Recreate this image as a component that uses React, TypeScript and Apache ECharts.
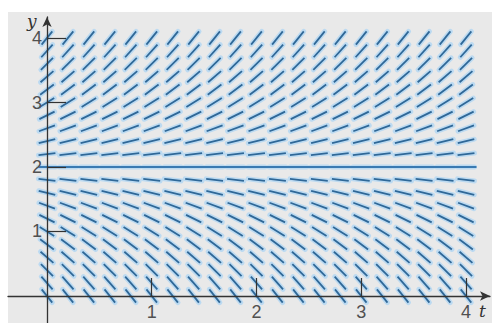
import React, { useEffect, useRef } from "react";
import * as echarts from "echarts";

// t positions of the direction-field columns
const T_VALUES = [0, 0.2, 0.4, 0.6, 0.8, 1, 1.2, 1.4, 1.6, 1.8, 2, 2.2, 2.4, 2.6, 2.8, 3, 3.2, 3.4, 3.6, 3.8, 4];
// y positions of the direction-field rows
const Y_VALUES = [0, 0.2, 0.4, 0.6, 0.8, 1, 1.2, 1.4, 1.6, 1.8, 2, 2.2, 2.4, 2.6, 2.8, 3, 3.2, 3.4, 3.6, 3.8, 4];
// slope dy/dt read for each row (field depends on y only)
const SLOPES = [-2.05, -1.85, -1.6, -1.4, -1.2, -1.0, -0.8, -0.6, -0.4, -0.2, 0, 0.2, 0.4, 0.6, 0.8, 1.0, 1.2, 1.4, 1.6, 1.8, 2.0];
// equilibrium solution y = 2
const EQUILIBRIUM = [[-0.08, 2], [4.1, 2]];
const X_TICKS = [1, 2, 3, 4];
const Y_TICKS = [1, 2, 3, 4];

export default function App() {
  const ref = useRef<HTMLDivElement>(null);
  useEffect(() => {
    if (!ref.current) return;
    const chart = echarts.init(ref.current, null, { renderer: "svg" });
    const field: number[][] = [];
    for (const t of T_VALUES) {
      Y_VALUES.forEach((y, i) => field.push([t, y, SLOPES[i]]));
    }
    const SEG = 17;
    const segShape = (api: any) => {
      const t = api.value(0), y = api.value(1), s = api.value(2);
      const c = api.coord([t, y]);
      const c2 = api.coord([t + 1, y + s]);
      let dx = c2[0] - c[0], dy = c2[1] - c[1];
      const l = Math.hypot(dx, dy);
      dx /= l; dy /= l;
      const h = SEG / 2;
      return { x1: c[0] - dx * h, y1: c[1] - dy * h, x2: c[0] + dx * h, y2: c[1] + dy * h };
    };
    const tickLabel = { color: "#505050", fontSize: 18, fontFamily: "Liberation Sans" };
    chart.setOption({
      animation: false,
      backgroundColor: "#ffffff",
      grid: { left: 8, right: 2, top: 17, bottom: 0, containLabel: false, outerBoundsMode: "none" },
      xAxis: {
        type: "value",
        min: -0.372,
        max: 4.229,
        z: 5,
        position: "bottom",
        offset: -27,
        splitLine: { show: false },
        axisLine: { onZero: false, lineStyle: { color: "#333333", width: 1.3 }, symbol: ["none", "arrow"], symbolSize: [7, 10] },
        axisTick: { show: true, inside: true, length: 18, customValues: X_TICKS, lineStyle: { color: "#333333", width: 1.2 } },
        axisLabel: { ...tickLabel, margin: 7, customValues: X_TICKS },
      },
      yAxis: {
        type: "value",
        min: -0.419,
        max: 4.326,
        z: 5,
        position: "left",
        offset: -39,
        splitLine: { show: false },
        axisLine: { onZero: false, lineStyle: { color: "#333333", width: 1.3 }, symbol: ["none", "arrow"], symbolSize: [7, 10] },
        axisTick: { show: true, inside: true, length: 19, customValues: Y_TICKS, lineStyle: { color: "#333333", width: 1.2 } },
        axisLabel: { ...tickLabel, margin: 5, customValues: Y_TICKS },
      },
      graphic: [
        { type: "rect", z: -10, silent: true, shape: { x: 8, y: 12, width: 484, height: 311 }, style: { fill: "#e9e9e9" } },
        { type: "text", z: 10, left: 27, top: 12, style: { text: "y", font: "italic 17px 'DejaVu Serif'", fill: "#333333" } },
        { type: "text", z: 10, left: 479, top: 302, style: { text: "t", font: "italic 17px 'DejaVu Serif'", fill: "#333333" } },
      ],
      series: [
        {
          type: "custom",
          coordinateSystem: "cartesian2d",
          clip: false,
          z: 1,
          data: field,
          renderItem: (_p: any, api: any) => ({
            type: "line",
            shape: segShape(api),
            style: { stroke: "#bcdaf1", lineWidth: 5, lineCap: "round" },
          }),
        },
        {
          type: "custom",
          coordinateSystem: "cartesian2d",
          clip: false,
          z: 2,
          data: field,
          renderItem: (_p: any, api: any) => ({
            type: "line",
            shape: segShape(api),
            style: { stroke: "#2f6898", lineWidth: 1.8 },
          }),
        },
        {
          type: "line",
          z: 3,
          data: EQUILIBRIUM,
          symbol: "none",
          lineStyle: { color: "#3a7ab2", width: 2.2 },
        },
      ],
    });
    return () => chart.dispose();
  }, []);
  return <div ref={ref} style={{ position: "fixed", left: 0, top: 0, width: 492, height: 323 }} />;
}
